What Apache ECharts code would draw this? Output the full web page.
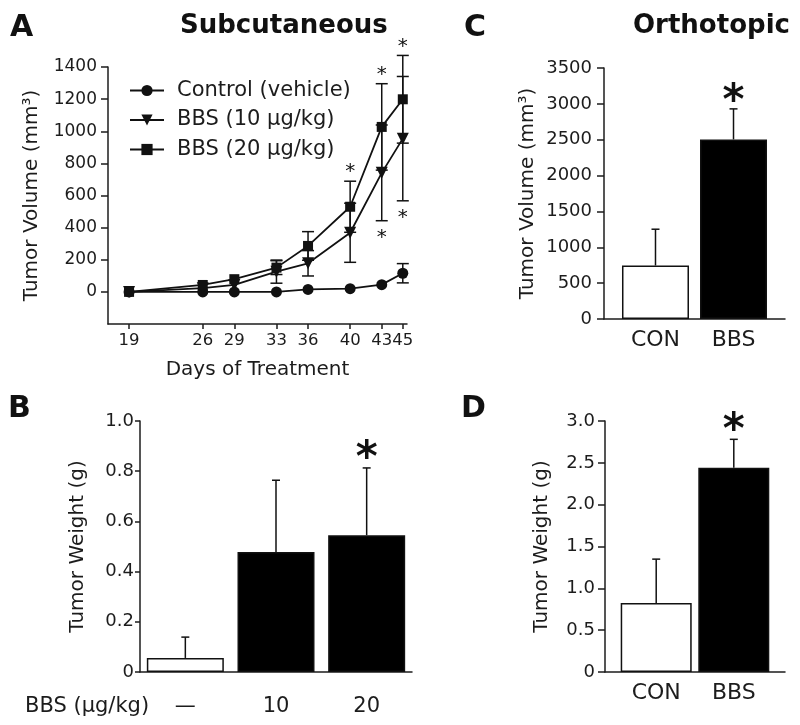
<!DOCTYPE html>
<html><head><meta charset="utf-8">
<script src="https://cdn.jsdelivr.net/npm/echarts@6/dist/echarts.min.js"></script>
<style>html,body{margin:0;padding:0;background:#fff}#c{width:800px;height:725px}</style>
</head><body><div id="c"></div>
<script>
// ---- Panel A: Subcutaneous tumor volume over time ----
const days = [19, 26, 29, 33, 36, 40, 43, 45];
const volTicks = [0, 200, 400, 600, 800, 1000, 1200, 1400];
const controlVol = [0, 0, 0, 0, 15, 20, 45, 116];
const controlErr = [0, 0, 0, 0, 0, 0, 0, 60];
const bbs10Vol = [0, 23, 43, 126, 178, 368, 741, 954];
const bbs10Err = [0, 0, 0, 72, 79, 184, 298, 387];
const bbs20Vol = [0, 43, 79, 151, 286, 530, 1027, 1199];
const bbs20Err = [0, 0, 0, 43, 89, 159, 269, 273];
const sigAbove20 = [0, 0, 0, 0, 0, 1, 1, 1];
const sigBelow10 = [0, 0, 0, 0, 0, 0, 1, 1];
const seriesNames = ['Control (vehicle)', 'BBS (10 μg/kg)', 'BBS (20 μg/kg)'];
// ---- Panel B: Subcutaneous tumor weight ----
const doseCats = ['—', '10', '20'];
const weightB = [0.056, 0.478, 0.545];
const weightBErr = [0.083, 0.286, 0.268];
const sigB = [0, 0, 1];
// ---- Panel C: Orthotopic tumor volume ----
const groupCats = ['CON', 'BBS'];
const volC = [746, 2504];
const volCErr = [506, 426];
const sigC = [0, 1];
// ---- Panel D: Orthotopic tumor weight ----
const weightD = [0.826, 2.441];
const weightDErr = [0.523, 0.340];
const sigD = [0, 1];

const FONT = 'DejaVu Sans';
const INK = '#1c1c1c';
const fillsB = ['#ffffff', '#000000', '#000000'];
const fillsCD = ['#ffffff', '#000000'];

function errRenderer(capW, starFont, starGap, both, lw) {
  return function (params, api) {
    const x = api.value(0), y = api.value(1), e = api.value(2);
    const up = api.value(3), down = api.value(4);
    const pTop = api.coord([x, y + e]);
    const pBot = api.coord([x, both ? y - e : y]);
    const st = { stroke: '#111', lineWidth: lw };
    const ch = [];
    if (e > 0) {
      ch.push({ type: 'line', shape: { x1: pTop[0], y1: pTop[1], x2: pBot[0], y2: pBot[1] }, style: st });
      ch.push({ type: 'line', shape: { x1: pTop[0] - capW / 2, y1: pTop[1], x2: pTop[0] + capW / 2, y2: pTop[1] }, style: st });
      if (both) ch.push({ type: 'line', shape: { x1: pBot[0] - capW / 2, y1: pBot[1], x2: pBot[0] + capW / 2, y2: pBot[1] }, style: st });
    }
    const off = starFont.size * 0.2;
    const f = starFont.weight + ' ' + starFont.size + 'px "' + FONT + '"';
    if (up) ch.push({ type: 'text', style: { text: '*', x: pTop[0], y: pTop[1] - starGap + off, align: 'center', verticalAlign: 'middle', font: f, fill: '#111' } });
    if (down) ch.push({ type: 'text', style: { text: '*', x: pBot[0], y: pBot[1] + starGap + off, align: 'center', verticalAlign: 'middle', font: f, fill: '#111' } });
    return { type: 'group', children: ch };
  };
}

const axisLineStyle = { color: INK, width: 1.5 };
const lbl = (size, margin) => ({ color: INK, fontFamily: FONT, fontSize: size, margin: margin, hideOverlap: false });
const nameStyle = { color: INK, fontFamily: FONT, fontSize: 20 };
const plain = v => String(v);

const chart = echarts.init(document.getElementById('c'));
chart.setOption({
  animation: false,
  backgroundColor: '#fff',
  textStyle: { fontFamily: FONT },
  grid: [
    { left: 108, top: 67, width: 299, height: 257 },
    { left: 140, top: 421, width: 272, height: 251 },
    { left: 604, top: 68, width: 181, height: 251 },
    { left: 605, top: 421, width: 180, height: 251 }
  ],
  legend: {
    data: seriesNames, orient: 'vertical', left: 124, top: 75,
    itemWidth: 34, itemHeight: 14, itemGap: 8.5,
    textStyle: { color: INK, fontFamily: FONT, fontSize: 21, lineHeight: 21, padding: [0, 0, 0, 8] }
  },
  xAxis: [
    { gridIndex: 0, type: 'value', min: 17, max: 45.4,
      axisLine: { onZero: false, lineStyle: axisLineStyle },
      axisTick: { customValues: days, length: 5, lineStyle: axisLineStyle },
      axisLabel: Object.assign({ customValues: days, formatter: plain, showMaxLabel: true, showMinLabel: true }, lbl(16.5, 8)),
      splitLine: { show: false },
      name: 'Days of Treatment', nameLocation: 'middle', nameGap: 36, nameTextStyle: nameStyle },
    { gridIndex: 1, type: 'category', data: doseCats,
      axisLine: { onZero: false, lineStyle: axisLineStyle },
      axisTick: { show: false }, axisLabel: lbl(21, 24) },
    { gridIndex: 2, type: 'value', min: 0.34, max: 2.66,
      axisLine: { onZero: false, lineStyle: axisLineStyle },
      axisTick: { show: false }, splitLine: { show: false },
      axisLabel: Object.assign({ customValues: [1, 2], formatter: v => groupCats[Math.round(v) - 1] }, lbl(22, 10)) },
    { gridIndex: 3, type: 'value', min: 0.34, max: 2.66,
      axisLine: { onZero: false, lineStyle: axisLineStyle },
      axisTick: { show: false }, splitLine: { show: false },
      axisLabel: Object.assign({ customValues: [1, 2], formatter: v => groupCats[Math.round(v) - 1] }, lbl(22, 10)) }
  ],
  yAxis: [
    { gridIndex: 0, type: 'value', min: -200, max: 1400,
      axisLine: { show: true, onZero: false, lineStyle: axisLineStyle },
      axisTick: { show: true, customValues: volTicks, length: 7, lineStyle: axisLineStyle },
      axisLabel: Object.assign({ customValues: volTicks, formatter: plain }, lbl(17, 11)),
      splitLine: { show: false },
      name: 'Tumor Volume (mm³)', nameLocation: 'middle', nameGap: 66, nameTextStyle: nameStyle },
    { gridIndex: 1, type: 'value', min: 0, max: 1, interval: 0.2,
      axisLine: { show: true, onZero: false, lineStyle: axisLineStyle },
      axisTick: { show: true, length: 5, lineStyle: axisLineStyle },
      axisLabel: Object.assign({ formatter: v => v === 0 ? '0' : v.toFixed(1) }, lbl(18, 6)),
      splitLine: { show: false },
      name: 'Tumor Weight (g)', nameLocation: 'middle', nameGap: 52, nameTextStyle: nameStyle },
    { gridIndex: 2, type: 'value', min: 0, max: 3500, interval: 500,
      axisLine: { show: true, onZero: false, lineStyle: axisLineStyle },
      axisTick: { show: true, length: 7, lineStyle: axisLineStyle },
      axisLabel: Object.assign({ formatter: plain }, lbl(18, 12)), splitLine: { show: false },
      name: 'Tumor Volume (mm³)', nameLocation: 'middle', nameGap: 66, nameTextStyle: nameStyle },
    { gridIndex: 3, type: 'value', min: 0, max: 3, interval: 0.5,
      axisLine: { show: true, onZero: false, lineStyle: axisLineStyle },
      axisTick: { show: true, length: 7, lineStyle: axisLineStyle },
      axisLabel: Object.assign({ formatter: v => v === 0 ? '0' : v.toFixed(1) }, lbl(18, 10)),
      splitLine: { show: false },
      name: 'Tumor Weight (g)', nameLocation: 'middle', nameGap: 53, nameTextStyle: nameStyle }
  ],
  series: [
    { type: 'custom', xAxisIndex: 0, yAxisIndex: 0, z: 1, silent: true,
      renderItem: errRenderer(12, { size: 20, weight: 'normal' }, 13, true, 1.5),
      data: days.map((d, i) => [d, controlVol[i], controlErr[i], 0, 0]) },
    { type: 'custom', xAxisIndex: 0, yAxisIndex: 0, z: 1, silent: true,
      renderItem: errRenderer(12, { size: 20, weight: 'normal' }, 13, true, 1.5),
      data: days.map((d, i) => [d, bbs10Vol[i], bbs10Err[i], 0, sigBelow10[i]]) },
    { type: 'custom', xAxisIndex: 0, yAxisIndex: 0, z: 1, silent: true,
      renderItem: errRenderer(12, { size: 20, weight: 'normal' }, 13, true, 1.5),
      data: days.map((d, i) => [d, bbs20Vol[i], bbs20Err[i], sigAbove20[i], 0]) },
    { type: 'line', name: seriesNames[0], xAxisIndex: 0, yAxisIndex: 0, z: 3,
      data: days.map((d, i) => [d, controlVol[i]]),
      symbol: 'circle', symbolSize: 11,
      lineStyle: { color: '#111', width: 1.8 }, itemStyle: { color: '#111' } },
    { type: 'line', name: seriesNames[1], xAxisIndex: 0, yAxisIndex: 0, z: 3,
      data: days.map((d, i) => [d, bbs10Vol[i]]),
      symbol: 'triangle', symbolRotate: 180, symbolSize: 12,
      lineStyle: { color: '#111', width: 1.8 }, itemStyle: { color: '#111' } },
    { type: 'line', name: seriesNames[2], xAxisIndex: 0, yAxisIndex: 0, z: 3,
      data: days.map((d, i) => [d, bbs20Vol[i]]),
      symbol: 'rect', symbolSize: 10,
      lineStyle: { color: '#111', width: 1.8 }, itemStyle: { color: '#111' } },
    { type: 'bar', xAxisIndex: 1, yAxisIndex: 1, barWidth: 77, z: 2,
      data: weightB,
      itemStyle: { color: p => fillsB[p.dataIndex], borderColor: '#111', borderWidth: 1.5 } },
    { type: 'custom', xAxisIndex: 1, yAxisIndex: 1, z: 4, silent: true,
      renderItem: errRenderer(8, { size: 42, weight: 'bold' }, 16, false, 1.5),
      data: weightB.map((v, i) => [i, v, weightBErr[i], sigB[i], 0]) },
    { type: 'bar', xAxisIndex: 2, yAxisIndex: 2, barWidth: 67, z: 2,
      data: volC.map((v, i) => [i + 1, v]),
      itemStyle: { color: p => fillsCD[p.dataIndex], borderColor: '#111', borderWidth: 1.5 } },
    { type: 'custom', xAxisIndex: 2, yAxisIndex: 2, z: 4, silent: true,
      renderItem: errRenderer(8, { size: 42, weight: 'bold' }, 14, false, 1.5),
      data: volC.map((v, i) => [i + 1, v, volCErr[i], sigC[i], 0]) },
    { type: 'bar', xAxisIndex: 3, yAxisIndex: 3, barWidth: 71, z: 2,
      data: weightD.map((v, i) => [i + 1, v]),
      itemStyle: { color: p => fillsCD[p.dataIndex], borderColor: '#111', borderWidth: 1.5 } },
    { type: 'custom', xAxisIndex: 3, yAxisIndex: 3, z: 4, silent: true,
      renderItem: errRenderer(8, { size: 42, weight: 'bold' }, 16, false, 1.5),
      data: weightD.map((v, i) => [i + 1, v, weightDErr[i], sigD[i], 0]) }
  ],
  graphic: [
    { type: 'text', left: 10, top: 13, style: { text: 'A', font: 'bold 30px "DejaVu Sans"', fill: '#111' } },
    { type: 'text', left: 180, top: 13, style: { text: 'Subcutaneous', font: 'bold 26px "DejaVu Sans"', fill: '#111' } },
    { type: 'text', left: 8, top: 394, style: { text: 'B', font: 'bold 30px "DejaVu Sans"', fill: '#111' } },
    { type: 'text', left: 464, top: 13, style: { text: 'C', font: 'bold 30px "DejaVu Sans"', fill: '#111' } },
    { type: 'text', left: 633, top: 13, style: { text: 'Orthotopic', font: 'bold 26px "DejaVu Sans"', fill: '#111' } },
    { type: 'text', left: 461, top: 394, style: { text: 'D', font: 'bold 30px "DejaVu Sans"', fill: '#111' } },
    { type: 'text', left: 25, top: 696, style: { text: 'BBS (μg/kg)', font: '21px "DejaVu Sans"', fill: INK } }
  ]
});
</script>
</body></html>
